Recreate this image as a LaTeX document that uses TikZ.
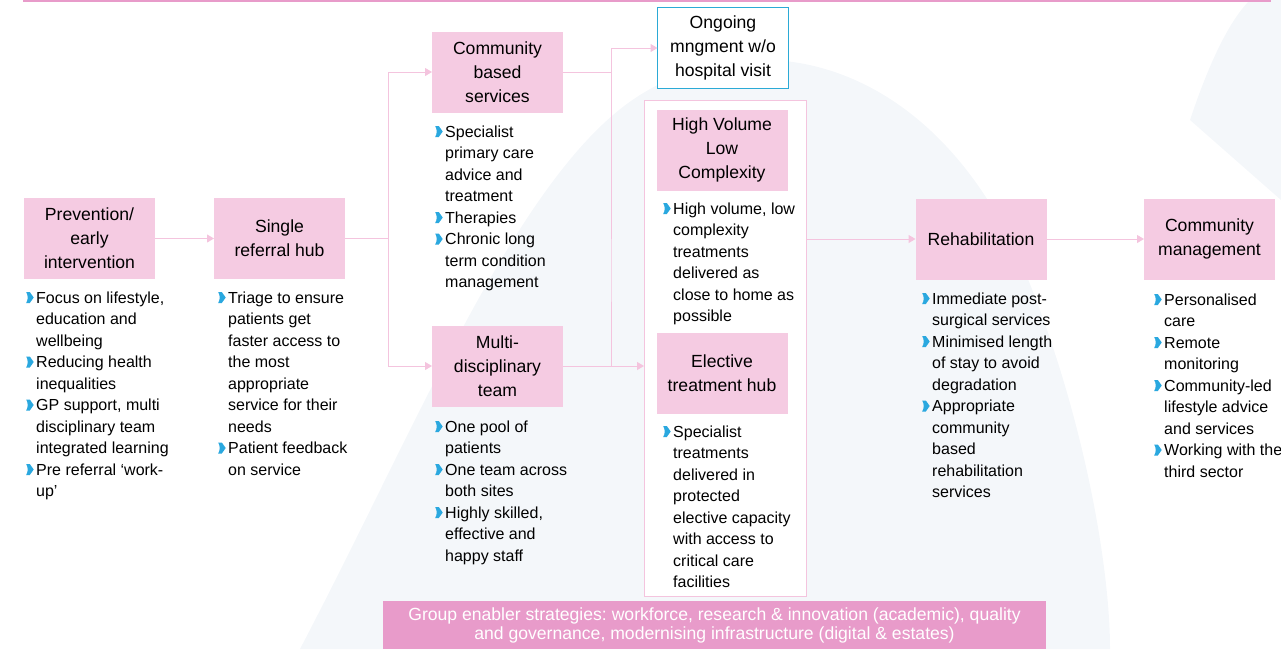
\documentclass[tikz,border=0pt]{standalone}
\usepackage{fontspec}
\setmainfont{Liberation Sans}
\usetikzlibrary{positioning,arrows.meta}
\frenchspacing

\definecolor{boxpink}{HTML}{F5CBE2}
\definecolor{linkpink}{HTML}{F4C4DE}
\definecolor{bandpink}{HTML}{E89BCA}
\definecolor{markblue}{HTML}{2AA8DF}
\definecolor{ongoblue}{HTML}{2BAAD6}
\definecolor{swoosh}{HTML}{F4F7FA}

% blue chevron in front of each point
\newcommand{\mrk}{\tikz[baseline=0pt]\fill[markblue] (0pt,0pt) .. controls (2pt,3.5pt) and (2pt,7.5pt) .. (0pt,11pt) -- (3.6pt,11pt) .. controls (6pt,8.5pt) .. (7.5pt,5.5pt) .. controls (6pt,2.5pt) .. (3.6pt,0pt) -- cycle;}
\newcommand{\itm}{\makebox[10pt][l]{\mrk}}
\newcommand{\cnt}{\hspace*{10pt}}

\begin{document}
\begin{tikzpicture}[
  x = 1pt, y = 1pt,
  stage/.style = {
    rectangle,
    fill = boxpink,
    minimum width = 131pt,
    minimum height = 81pt,
    inner sep = 0pt,
    outer sep = 0pt,
    align = center,
    font = \fontsize{17.6}{24}\selectfont,
  },
  % placed at the baseline of the last line
  notes/.style = {
    anchor = base west,
    align = left,
    inner sep = 0pt,
    font = \fontsize{16}{21.5}\selectfont,
  },
  band/.style = {
    fill = bandpink,
    text = white,
    minimum width = 663pt,
    minimum height = 48pt,
    inner sep = 0pt,
    align = center,
    font = \fontsize{17.6}{19}\selectfont,
  },
  link/.style = {draw = linkpink, line width = 1pt},
  >={Triangle[length=7pt,width=8pt]},
]

  \useasboundingbox (0,0) rectangle (1281,-649);

  % faint background
  \fill[swoosh] (300,-649) .. controls (420,-420) and (520,-170) .. (640,-95)
    .. controls (760,-20) and (930,-60) .. (1020,-260)
    .. controls (1080,-400) and (1110,-560) .. (1110,-649) -- cycle;
  \fill[swoosh] (1190,-120) .. controls (1210,-60) and (1230,-20) .. (1250,0)
    -- (1281,0) -- (1281,-200) -- cycle;

  \draw[bandpink, line width=1.8pt] (23,-0.9) -- (1271,-0.9);

  \node[stage] (prev) at (89.5,-238.5) {Prevention/\\early\\intervention};
  \node[stage, right=59pt of prev] (hub) {Single\\referral hub};
  \node[stage] (cbs) at (497.5,-72) {Community\\based\\services};
  \node[stage, below=213pt of cbs] (mdt) {Multi-\\disciplinary\\team};
  \node[stage, fill=white, draw=ongoblue, line width=1.5pt] (ongo) at (723,-48)
    {Ongoing\\mngment w/o\\hospital visit};

  \node[draw=linkpink, line width=1pt, fill=white, inner sep=0pt, outer sep=0pt,
    minimum width=162pt, minimum height=496pt] (elframe) at (725,-348) {};
  \node[stage] (hvlc) at (722,-150) {High Volume\\Low\\Complexity};
  \node[stage] (eth) at (722,-373) {Elective\\treatment hub};

  \node[stage] (rehab) at (981,-239) {Rehabilitation};
  \node[stage, right=97.5pt of rehab] (cm) {Community\\management};

  \node[band] (enabler) at (714.5,-625)
    {Group enabler strategies: workforce, research \& innovation (academic), quality\\
     and governance, modernising infrastructure (digital \& estates)};

  \node[notes] (prevtxt) at (26,-496.5) {\itm Focus on lifestyle,\\ \cnt education and\\
    \cnt wellbeing\\ \itm Reducing health\\ \cnt inequalities\\ \itm GP support, multi\\
    \cnt disciplinary team\\ \cnt integrated learning\\ \itm Pre referral `work-\\ \cnt up'};
  \node[notes] (hubtxt) at (218,-475) {\itm Triage to ensure\\ \cnt patients get\\
    \cnt faster access to\\ \cnt the most\\ \cnt appropriate\\ \cnt service for their\\
    \cnt needs\\ \itm Patient feedback\\ \cnt on service};
  \node[notes] (cbstxt) at (435,-287.5) {\itm Specialist\\ \cnt primary care\\
    \cnt advice and\\ \cnt treatment\\ \itm Therapies\\ \itm Chronic long\\
    \cnt term condition\\ \cnt management};
  \node[notes] (mdttxt) at (435,-561) {\itm One pool of\\ \cnt patients\\
    \itm One team across\\ \cnt both sites\\ \itm Highly skilled,\\ \cnt effective and\\
    \cnt happy staff};
  \node[notes] (hvlctxt) at (663,-321.5) {\itm High volume, low\\ \cnt complexity\\
    \cnt treatments\\ \cnt delivered as\\ \cnt close to home as\\ \cnt possible};
  \node[notes] (ethtxt) at (663,-587.5) {\itm Specialist\\ \cnt treatments\\
    \cnt delivered in\\ \cnt protected\\ \cnt elective capacity\\ \cnt with access to\\
    \cnt critical care\\ \cnt facilities};
  \node[notes] (rehabtxt) at (922,-497.5) {\itm Immediate post-\\ \cnt surgical services\\
    \itm Minimised length\\ \cnt of stay to avoid\\ \cnt degradation\\ \itm Appropriate\\
    \cnt community\\ \cnt based\\ \cnt rehabilitation\\ \cnt services};
  \node[notes] (cmtxt) at (1154,-477) {\itm Personalised\\ \cnt care\\ \itm Remote\\
    \cnt monitoring\\ \itm Community-led\\ \cnt lifestyle advice\\ \cnt and services\\
    \itm Working with the\\ \cnt third sector};

  \coordinate (fork) at (388,-238.5);
  \coordinate (merge) at (611,-238.5);
  \draw[link,->] (prev) -- (hub);
  \draw[link] (hub) -- (fork);
  \draw[link,->] (fork) |- (cbs);
  \draw[link,->] (fork) |- (mdt);
  \draw[link] (cbs) -| (merge);
  \draw[link,->] (mdt) -| (merge) |- (ongo);
  \draw[link,->] (mdt) -- (mdt -| elframe.west);
  \draw[link,->] (elframe.east |- rehab) -- (rehab);
  \draw[link,->] (rehab) -- (cm);

\end{tikzpicture}
\end{document}
